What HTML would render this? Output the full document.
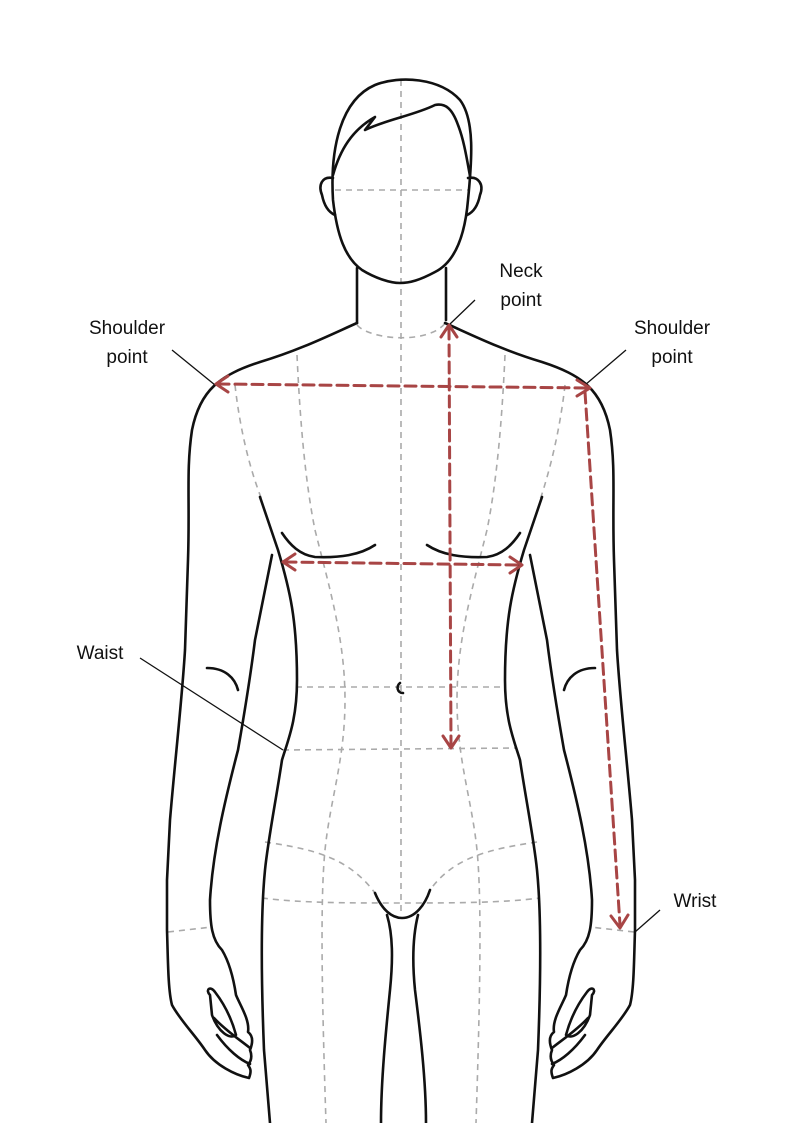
<!DOCTYPE html>
<html><head><meta charset="utf-8"><style>
html,body{margin:0;padding:0;background:#fff}
svg{display:block}
text{font-family:"Liberation Sans",sans-serif;font-size:19px;fill:#111}
</style></head><body>
<svg width="794" height="1123" viewBox="0 0 794 1123" xmlns="http://www.w3.org/2000/svg">
<g fill="none" stroke="#aaa" stroke-width="1.6" stroke-dasharray="6,5">
<line x1="401" y1="80" x2="401" y2="915"/>
<line x1="335" y1="190" x2="468" y2="190"/>
<path d="M357,325 C370,340 430,345 446,322"/>
<path d="M235,385 C240,430 250,470 262,500"/>
<path d="M565,385 C560,430 550,470 540,500"/>
<path d="M297,355 C300,420 305,480 315,530 C330,590 345,640 345,700 C345,760 330,800 325,850 C320,900 322,1000 326,1123"/>
<path d="M505,355 C502,420 497,480 487,530 C472,590 457,640 457,700 C457,760 472,800 477,850 C482,900 480,1000 476,1123"/>
<line x1="296" y1="687" x2="502" y2="687"/>
<line x1="283" y1="750" x2="517" y2="748"/>
<path d="M265,842 C320,850 350,860 375,893"/>
<path d="M537,842 C482,850 452,860 430,890"/>
<path d="M262,898 C300,903 350,903 400,903 C450,903 502,903 540,898"/>
<line x1="168" y1="932" x2="212" y2="927"/>
<line x1="634" y1="932" x2="590" y2="927"/>
</g>
<g fill="none" stroke="#111" stroke-width="2.6" stroke-linecap="round" stroke-linejoin="round">
<path d="M333,200 C330,150 340,100 375,85 C400,75 440,78 460,100 C475,120 472,160 468,200 C465,235 455,262 435,272 C420,280 410,283 400,283 C390,283 375,278 362,270 C345,258 337,235 333,200 Z"/>
<path d="M333,178 C322,176 318,185 322,195 C324,205 328,212 335,215"/>
<path d="M468,178 C479,176 484,185 480,195 C478,205 474,212 467,215"/>
<path d="M333,175 C340,150 352,130 375,117 L365,130 C385,120 415,115 435,105 C445,103 452,108 458,125 C464,140 467,160 470,176"/>
<path d="M357,268 L357,323"/><path d="M446,268 L446,320"/>
<path d="M400,683 C396,686 397,693 403,693"/>
<g id="half">
<path d="M357,323 C330,335 300,350 260,362 C220,375 200,390 192,430 C186,470 190,500 188,560 L185,650 C182,700 175,760 170,820 L167,880 L167,930 C168,960 168,990 172,1005 C180,1020 195,1035 205,1050 C215,1065 235,1075 249,1078 C252,1070 250,1068 248,1065 C252,1060 252,1055 250,1050 C254,1040 252,1035 248,1032 C250,1020 240,1005 236,995 C233,975 228,960 222,950 C212,940 210,925 210,900 C213,850 225,800 238,750 C245,710 250,680 255,640 L272,555"/>
<path d="M260,497 L278,550 C290,590 297,620 297,680 C297,720 288,740 282,760 C276,800 268,840 265,870 C260,920 262,1000 264,1050 L270,1123"/>
<path d="M210,995 C205,990 210,985 215,992 C225,1005 232,1020 236,1035 C230,1040 218,1032 212,1015 Z"/>
<path d="M214,1018 C225,1030 240,1040 250,1048"/>
<path d="M217,1035 C228,1050 240,1060 250,1064"/>
<path d="M282,533 C290,545 300,555 315,557 C340,558 360,555 375,545"/>
<path d="M207,668 C225,668 235,678 238,690"/>
</g>
<use href="#half" transform="translate(802,0) scale(-1,1)"/>
<path d="M375,893 C382,910 392,918 402,918 C415,918 425,905 430,890"/>
<path d="M387,915 C393,935 393,960 390,990 C386,1030 381,1080 381,1123"/>
<path d="M418,915 C413,935 412,960 415,990 C420,1030 426,1080 426,1123"/>
</g>
<g fill="none" stroke="#111" stroke-width="1.3">
<line x1="172" y1="350" x2="215" y2="385"/>
<line x1="626" y1="350" x2="585" y2="385"/>
<line x1="475" y1="300" x2="450" y2="324"/>
<line x1="140" y1="658" x2="283" y2="750"/>
<line x1="660" y1="910" x2="635" y2="932"/>
</g>
<g fill="none" stroke="#a84545" stroke-width="3" stroke-linecap="round" stroke-linejoin="round">
<g stroke-dasharray="11,6">
<line x1="218" y1="384" x2="588" y2="388"/>
<line x1="449" y1="328" x2="451" y2="745"/>
<line x1="285" y1="562" x2="520" y2="565"/>
<line x1="585" y1="392" x2="620" y2="925"/>
</g>
<path d="M228,376 L216,384 L228,392"/>
<path d="M577,380 L590,388 L577,396"/>
<path d="M441,337 L449,325 L457,337"/>
<path d="M443,736 L451,748 L459,736"/>
<path d="M295,554 L283,562 L295,570"/>
<path d="M510,557 L522,565 L510,573"/>
<path d="M611,916 L620,928 L628,915"/>
</g>
<text x="127" y="334" text-anchor="middle">Shoulder</text>
<text x="127" y="363" text-anchor="middle">point</text>
<text x="672" y="334" text-anchor="middle">Shoulder</text>
<text x="672" y="363" text-anchor="middle">point</text>
<text x="521" y="277" text-anchor="middle">Neck</text>
<text x="521" y="306" text-anchor="middle">point</text>
<text x="100" y="659" text-anchor="middle">Waist</text>
<text x="695" y="907" text-anchor="middle">Wrist</text>
</svg>
</body></html>
